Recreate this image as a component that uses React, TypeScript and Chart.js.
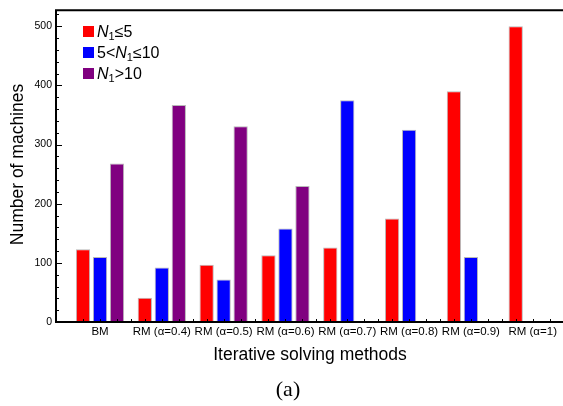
import React, { useEffect, useRef } from "react";
import { Chart, registerables } from "chart.js";

Chart.register(...registerables);

const categories = [
  "BM",
  "RM (α=0.4)",
  "RM (α=0.5)",
  "RM (α=0.6)",
  "RM (α=0.7)",
  "RM (α=0.8)",
  "RM (α=0.9)",
  "RM (α=1)",
];
const lowN = [123, 41, 97, 113, 126, 175, 390, 500];
const midN = [110, 92, 72, 158, 375, 325, 110, 0];
const highN = [268, 367, 331, 230, 0, 0, 0, 0];
const yTickValues = [0, 100, 200, 300, 400, 500];
const legendLabels = [
  { pre: "", it: "N", sub: "1", post: "≤5" },
  { pre: "5<", it: "N", sub: "1", post: "≤10" },
  { pre: "", it: "N", sub: "1", post: ">10" },
];
const colors = ["#ff0000", "#0000ff", "#800080"];
const xTitle = "Iterative solving methods";
const yTitle = "Number of machines";
const panelLabel = "(a)";

const CAT_PCT = 0.825;
const BAR_PCT = 0.84;
const SANS = "'Liberation Sans', Arial, sans-serif";

const decorPlugin = {
  id: "decor",
  afterDraw(chart: any) {
    const ctx = chart.ctx;
    const { left, right, top, bottom } = chart.chartArea;
    const xs = chart.scales.x;
    const ys = chart.scales.y;
    ctx.save();
    // frame
    ctx.strokeStyle = "#000";
    ctx.lineWidth = 2;
    ctx.beginPath();
    ctx.moveTo(right + 2, top);
    ctx.lineTo(left, top);
    ctx.lineTo(left, bottom);
    ctx.lineTo(right + 2, bottom);
    ctx.stroke();
    // y ticks
    ctx.lineWidth = 1;
    ctx.beginPath();
    for (let v = 0; v <= ys.max; v += 20) {
      const y = Math.round(ys.getPixelForValue(v)) + 0.5;
      const len = v % 100 === 0 ? 6 : 3;
      ctx.moveTo(left, y);
      ctx.lineTo(left + len, y);
    }
    // x ticks
    const slot = CAT_PCT / 3;
    categories.forEach((_, i) => {
      [-1, 0, 1].forEach((k) => {
        const x = Math.round(xs.getPixelForValue(i + k * slot)) + 0.5;
        ctx.moveTo(x, bottom);
        ctx.lineTo(x, bottom - 3);
      });
      const g = Math.round(xs.getPixelForValue(i + 0.5)) + 0.5;
      ctx.moveTo(g, bottom);
      ctx.lineTo(g, bottom - 3);
    });
    ctx.stroke();
    // titles
    ctx.fillStyle = "#000";
    ctx.font = `17.5px ${SANS}`;
    ctx.textAlign = "center";
    ctx.textBaseline = "middle";
    ctx.fillText(xTitle, 310, 355);
    ctx.save();
    ctx.translate(18.5, 164.5);
    ctx.rotate(-Math.PI / 2);
    ctx.fillText(yTitle, 0, 0);
    ctx.restore();
    ctx.font = "22px 'Liberation Serif', 'Times New Roman', serif";
    ctx.fillText(panelLabel, 288, 390);
    // legend
    ctx.textAlign = "left";
    ctx.textBaseline = "alphabetic";
    const rows = [31, 52, 73];
    legendLabels.forEach((lab, i) => {
      const cy = rows[i];
      ctx.fillStyle = colors[i];
      ctx.fillRect(83, cy - 5, 11, 11);
      ctx.fillStyle = "#000";
      let x = 97;
      const base = cy + 6;
      ctx.font = `16px ${SANS}`;
      ctx.fillText(lab.pre, x, base);
      x += ctx.measureText(lab.pre).width;
      ctx.font = `italic 16px ${SANS}`;
      ctx.fillText(lab.it, x, base);
      x += ctx.measureText(lab.it).width;
      ctx.font = `11px ${SANS}`;
      ctx.fillText(lab.sub, x, base + 3);
      x += ctx.measureText(lab.sub).width;
      ctx.font = `16px ${SANS}`;
      ctx.fillText(lab.post, x, base);
    });
    ctx.restore();
  },
};

export default function App() {
  const ref = useRef<HTMLCanvasElement | null>(null);
  useEffect(() => {
    if (!ref.current) return;
    const mk = (vals: number[]) => vals.map((v, i) => ({ x: i, y: v }));
    const chart = new Chart(ref.current, {
      type: "bar",
      data: {
        datasets: [
          { label: "N1≤5", data: mk(lowN) as any },
          { label: "5<N1≤10", data: mk(midN) as any },
          { label: "N1>10", data: mk(highN) as any },
        ].map((d, i) => ({
          ...d,
          backgroundColor: colors[i],
          borderColor: "rgba(185,185,185,1)",
          borderWidth: 1,
          borderSkipped: false,
          categoryPercentage: CAT_PCT,
          barPercentage: BAR_PCT,
        })),
      },
      options: {
        responsive: false,
        animation: false,
        layout: { padding: { top: 6, right: 0, left: 0, bottom: 0 } },
        plugins: { legend: { display: false }, tooltip: { enabled: false } },
        scales: {
          x: {
            type: "linear",
            min: -0.712,
            max: 7.49,
            offset: false,
            grid: { display: false, drawTicks: false, offset: false },
            border: { display: false },
            afterBuildTicks: (s: any) => {
              s.ticks = categories.map((_, i) => ({ value: i }));
            },
            afterFit: (s: any) => {
              s.height = 84;
            },
            ticks: {
              autoSkip: false,
              maxRotation: 0,
              padding: 3,
              color: "#000",
              font: { family: SANS, size: 11.5 },
              callback: (v: any) => categories[Math.round(Number(v))] ?? "",
            },
          },
          y: {
            min: 0,
            max: 527,
            grid: { display: false, drawTicks: false },
            border: { display: false },
            afterBuildTicks: (s: any) => {
              s.ticks = yTickValues.map((v) => ({ value: v }));
            },
            afterFit: (s: any) => {
              s.width = 56;
            },
            ticks: {
              padding: 4,
              color: "#000",
              font: { family: SANS, size: 10.5 },
            },
          },
        },
      } as any,
      plugins: [decorPlugin],
    });
    return () => chart.destroy();
  }, []);
  return (
    <div style={{ position: "fixed", left: 0, top: 0, width: 563, height: 406, background: "#fff" }}>
      <canvas ref={ref} width={563} height={406} />
    </div>
  );
}
